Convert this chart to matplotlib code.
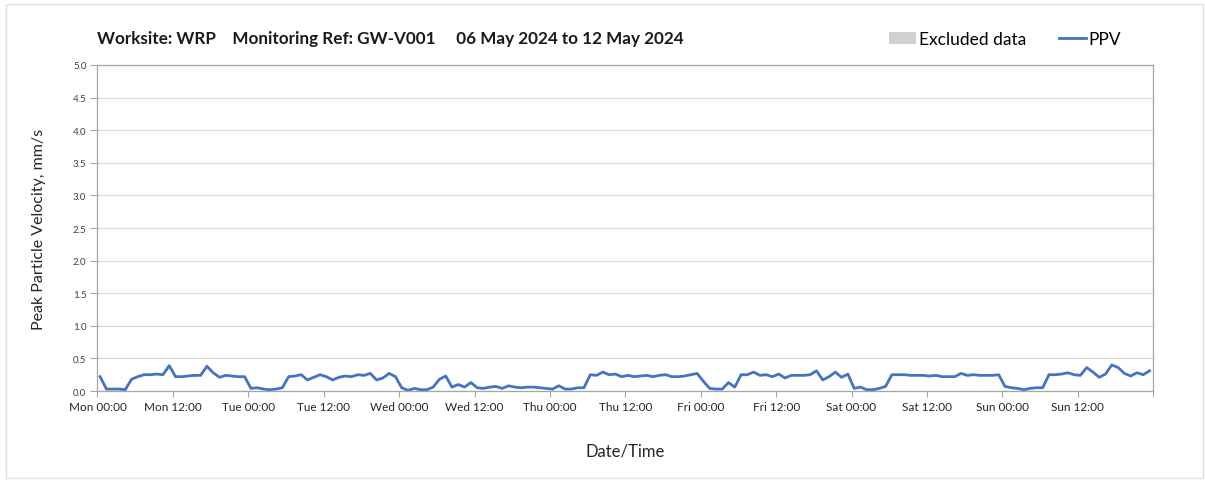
import matplotlib
matplotlib.use("Agg")
import matplotlib.pyplot as plt
import matplotlib.dates as mdates
from matplotlib.patches import Rectangle, Patch
from matplotlib.lines import Line2D
import pandas as pd

plt.rcParams['font.family'] = ['Lato', 'DejaVu Sans']

# hourly peak particle velocity (mm/s), one list per day
mon = [0.22, 0.03, 0.03, 0.03, 0.02, 0.18, 0.22, 0.25, 0.25, 0.26, 0.25, 0.39,
       0.22, 0.22, 0.23, 0.24, 0.24, 0.38, 0.28, 0.21, 0.24, 0.23, 0.22, 0.22]
tue = [0.04, 0.05, 0.03, 0.02, 0.03, 0.05, 0.22, 0.23, 0.25, 0.17, 0.21, 0.25,
       0.22, 0.17, 0.21, 0.23, 0.22, 0.25, 0.24, 0.27, 0.17, 0.20, 0.27, 0.22]
wed = [0.05, 0.01, 0.04, 0.02, 0.02, 0.06, 0.18, 0.23, 0.06, 0.10, 0.06, 0.13,
       0.05, 0.04, 0.06, 0.07, 0.04, 0.08, 0.06, 0.05, 0.06, 0.06, 0.05, 0.04]
thu = [0.03, 0.08, 0.03, 0.03, 0.05, 0.05, 0.25, 0.24, 0.29, 0.25, 0.26, 0.22,
       0.24, 0.22, 0.23, 0.24, 0.22, 0.24, 0.25, 0.22, 0.22, 0.23, 0.25, 0.27]
fri = [0.15, 0.04, 0.03, 0.03, 0.13, 0.06, 0.25, 0.25, 0.29, 0.24, 0.25, 0.22,
       0.26, 0.20, 0.24, 0.24, 0.24, 0.25, 0.31, 0.17, 0.22, 0.29, 0.21, 0.26]
sat = [0.04, 0.06, 0.02, 0.02, 0.04, 0.07, 0.25, 0.25, 0.25, 0.24, 0.24, 0.24,
       0.23, 0.24, 0.22, 0.22, 0.22, 0.27, 0.24, 0.25, 0.24, 0.24, 0.24, 0.25]
sun = [0.07, 0.05, 0.04, 0.02, 0.04, 0.05, 0.05, 0.25, 0.25, 0.26, 0.28, 0.25,
       0.24, 0.36, 0.29, 0.21, 0.26, 0.40, 0.36, 0.27, 0.23, 0.28, 0.25, 0.31]

ppv = mon + tue + wed + thu + fri + sat + sun
times = pd.date_range("2024-05-06 00:25", periods=len(ppv), freq="h")

start = pd.Timestamp("2024-05-06 00:00")
end = pd.Timestamp("2024-05-13 00:00")

fig = plt.figure(figsize=(12.05, 4.81), dpi=100)
ax = fig.add_axes([0.0809, 0.185, 0.957 - 0.0809, 0.8628 - 0.185])

ax.plot(times, ppv, color="#4472C4", linewidth=2.0)

ax.set_xlim(start, end)
ax.set_ylim(0, 5)
ax.set_yticks([i * 0.5 for i in range(11)])
ax.yaxis.set_major_formatter(plt.FormatStrFormatter("%.1f"))

end_num = mdates.date2num(end)


def fmt_time(x, pos=None):
    # no label on the closing tick
    if abs(x - end_num) < 1e-6:
        return ""
    return mdates.num2date(x).strftime("%a %H:%M")


ax.xaxis.set_major_locator(mdates.HourLocator(byhour=[0, 12]))
ax.xaxis.set_major_formatter(plt.FuncFormatter(fmt_time))
ax.xaxis.set_minor_locator(mdates.DayLocator())

ax.grid(axis="y", color="#d9d9d9", linewidth=0.9)
ax.grid(axis="x", which="minor", color="#d9d9d9", linewidth=0.9)
ax.set_axisbelow(True)

for s in ax.spines.values():
    s.set_color("#a6a6a6")
    s.set_linewidth(0.9)

ax.tick_params(axis="x", which="major", length=4, color="#a6a6a6",
               labelsize=8.5, labelcolor="#262626", pad=3)
ax.tick_params(axis="x", which="minor", length=0)
ax.tick_params(axis="y", length=5, color="#a6a6a6", labelsize=7,
               labelcolor="#404040", pad=3)

ax.set_xlabel("Date/Time", fontsize=12, color="#262626", labelpad=22)
ax.set_ylabel("Peak Particle Velocity, mm/s", fontsize=11.5, color="#262626",
              labelpad=19)

fig.text(0.0805, 0.918, "Worksite: WRP    Monitoring Ref: GW-V001     06 May 2024 to 12 May 2024",
         fontsize=12.3, fontweight="bold", color="#1a1a1a", va="center")

handles = [Patch(facecolor="#d0d0d0", edgecolor="none", label="Excluded data"),
           Line2D([0], [0], color="#4472C4", linewidth=2.0, label="PPV")]
fig.legend(handles=handles, loc="center left", bbox_to_anchor=(0.725, 0.917), ncol=2,
           frameon=False, fontsize=12.5, handlelength=1.55, handletextpad=0.15,
           columnspacing=1.9)

# thin frame around the whole figure
fig.add_artist(Rectangle((0.005, 0.004), 0.993, 0.986, transform=fig.transFigure,
                         fill=False, edgecolor="#e0e0e0", linewidth=1.0))

fig.savefig("out.png", dpi=100)
